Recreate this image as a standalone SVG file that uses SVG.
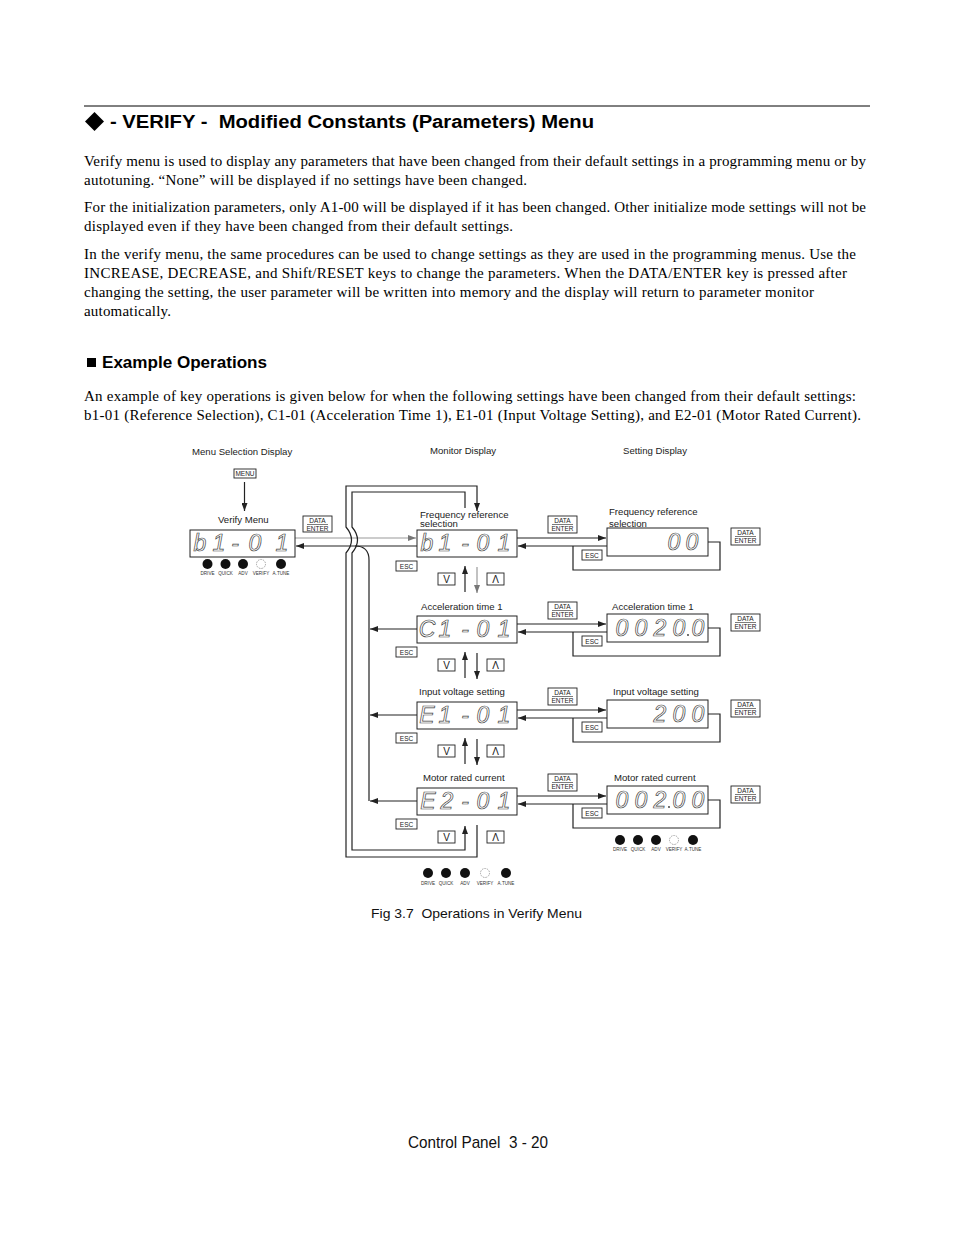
<svg xmlns="http://www.w3.org/2000/svg" width="954" height="1235" viewBox="0 0 954 1235">
<style>
.body{font-family:"Liberation Serif",serif;font-size:15px;fill:#000}
.h1{font-family:"Liberation Sans",Arial,sans-serif;font-size:18px;font-weight:bold;fill:#000}
.h2{font-family:"Liberation Sans",Arial,sans-serif;font-size:16px;font-weight:bold;fill:#000}
.lbl{font-family:"Liberation Sans",Arial,sans-serif;font-size:9.6px;fill:#222}
.cap{font-family:"Liberation Sans",Arial,sans-serif;font-size:13px;fill:#111}
.foot{font-family:"Liberation Sans",Arial,sans-serif;font-size:17px;fill:#111}
.disp{fill:#fff;stroke:#222;stroke-width:1}
.dig{font-family:"Liberation Sans",Arial,sans-serif;font-size:23px;font-style:italic;fill:none;stroke:#444;stroke-width:0.7;text-anchor:middle}
.key{fill:#fff;stroke:#222;stroke-width:0.9}
.kt{font-family:"Liberation Sans",Arial,sans-serif;font-size:6.5px;fill:#222;text-anchor:middle}
.kv{font-family:"Liberation Sans",Arial,sans-serif;font-size:10px;fill:#222;text-anchor:middle}
.led{fill:#111}
.ledv{fill:none;stroke:#999;stroke-width:0.9;stroke-dasharray:1.5 1}
.lt{font-family:"Liberation Sans",Arial,sans-serif;font-size:4.6px;fill:#333;text-anchor:middle}
.ln{fill:none;stroke:#222;stroke-width:1.2}
.lnA{fill:none;stroke:#222;stroke-width:1.2;marker-end:url(#ah)}
.lnG{fill:none;stroke:#999;stroke-width:1.2;marker-end:url(#ahg)}
</style>
<defs>
<marker id="ah" viewBox="0 0 8 6" refX="8" refY="3" markerWidth="8" markerHeight="6" markerUnits="userSpaceOnUse" orient="auto"><path d="M0,0 L8,3 L0,6 z" fill="#222"/></marker>
<marker id="ahg" viewBox="0 0 8 6" refX="8" refY="3" markerWidth="8" markerHeight="6" markerUnits="userSpaceOnUse" orient="auto"><path d="M0,0 L8,3 L0,6 z" fill="#777"/></marker>
</defs>
<rect width="954" height="1235" fill="#fff"/>

<g id="page-text">
<line x1="84" y1="106" x2="870" y2="106" stroke="#000" stroke-width="1"/>
<polygon points="94.5,112 104,121.5 94.5,131 85,121.5" fill="#000"/>
<text class="h1" x="110" y="128" xml:space="preserve" textLength="484" lengthAdjust="spacingAndGlyphs">- VERIFY -  Modified Constants (Parameters) Menu</text>
<text class="body" x="84" y="166" textLength="782" lengthAdjust="spacing">Verify menu is used to display any parameters that have been changed from their default settings in a programming menu or by</text>
<text class="body" x="84" y="185" textLength="443" lengthAdjust="spacing">autotuning. “None” will be displayed if no settings have been changed.</text>
<text class="body" x="84" y="212" textLength="782" lengthAdjust="spacing">For the initialization parameters, only A1-00 will be displayed if it has been changed. Other initialize mode settings will not be</text>
<text class="body" x="84" y="231" textLength="429" lengthAdjust="spacing">displayed even if they have been changed from their default settings.</text>
<text class="body" x="84" y="259" textLength="772" lengthAdjust="spacing">In the verify menu, the same procedures can be used to change settings as they are used in the programming menus. Use the</text>
<text class="body" x="84" y="278" textLength="763" lengthAdjust="spacing">INCREASE, DECREASE, and Shift/RESET keys to change the parameters. When the DATA/ENTER key is pressed after</text>
<text class="body" x="84" y="297" textLength="730" lengthAdjust="spacing">changing the setting, the user parameter will be written into memory and the display will return to parameter monitor</text>
<text class="body" x="84" y="316" textLength="87" lengthAdjust="spacing">automatically.</text>
<rect x="87" y="358" width="9" height="9" fill="#000"/>
<text class="h2" x="102" y="368" textLength="165" lengthAdjust="spacingAndGlyphs">Example Operations</text>
<text class="body" x="84" y="401" textLength="772" lengthAdjust="spacing">An example of key operations is given below for when the following settings have been changed from their default settings:</text>
<text class="body" x="84" y="420" textLength="777" lengthAdjust="spacing">b1-01 (Reference Selection), C1-01 (Acceleration Time 1), E1-01 (Input Voltage Setting), and E2-01 (Motor Rated Current).</text>
<text class="cap" x="371" y="918" xml:space="preserve" textLength="211" lengthAdjust="spacingAndGlyphs">Fig 3.7  Operations in Verify Menu</text>
<text class="foot" x="408" y="1148" xml:space="preserve" textLength="140" lengthAdjust="spacingAndGlyphs">Control Panel  3 - 20</text>
</g>

<g id="column-headers">
<text class="lbl" x="192" y="455" font-size="9.3">Menu Selection Display</text>
<text class="lbl" x="430" y="454" font-size="9.3">Monitor Display</text>
<text class="lbl" x="623" y="454" font-size="9.3">Setting Display</text>
</g>

<g id="connectors">
<line class="lnA" x1="244.5" y1="482" x2="244.5" y2="511"/>
<line class="lnG" x1="295" y1="538" x2="416" y2="538"/>
<line class="lnA" x1="417" y1="546" x2="296" y2="546"/>
<path class="lnA" d="M477,825 L477,857 L346,857 L346,553 Q357,540 346,527 L346,486 L477,486 L477,511"/>
<path class="lnA" d="M465,508 L465,492 L352,492 L352,527 Q363,540 352,553 L352,850 L465,850 L465,826"/>
<path class="ln" d="M369,801 L369,560 Q369,546 355,546"/>
<line class="lnA" x1="417" y1="629" x2="370" y2="629"/>
<line class="lnA" x1="417" y1="715" x2="370" y2="715"/>
<line class="lnA" x1="417" y1="801" x2="370" y2="801"/>
<line class="lnA" x1="517" y1="538" x2="606" y2="538"/>
<line class="lnA" x1="607" y1="546" x2="518" y2="546"/>
<path class="ln" d="M708,542 L720,542 L720,570 L573,570 L573,546"/>
<line class="lnA" x1="465" y1="592" x2="465" y2="566"/>
<line class="lnG" x1="477" y1="567" x2="477" y2="593"/>
<line class="lnA" x1="517" y1="624" x2="606" y2="624"/>
<line class="lnA" x1="607" y1="632" x2="518" y2="632"/>
<path class="ln" d="M708,628 L720,628 L720,656 L573,656 L573,632"/>
<line class="lnA" x1="465" y1="678" x2="465" y2="652"/>
<line class="lnA" x1="477" y1="653" x2="477" y2="679"/>
<line class="lnA" x1="517" y1="710" x2="606" y2="710"/>
<line class="lnA" x1="607" y1="718" x2="518" y2="718"/>
<path class="ln" d="M708,714 L720,714 L720,742 L573,742 L573,718"/>
<line class="lnA" x1="465" y1="764" x2="465" y2="738"/>
<line class="lnA" x1="477" y1="739" x2="477" y2="765"/>
<line class="lnA" x1="517" y1="796" x2="606" y2="796"/>
<line class="lnA" x1="607" y1="804" x2="518" y2="804"/>
<path class="ln" d="M708,800 L720,800 L720,828 L573,828 L573,804"/>
</g>

<g id="menu-key">
<rect class="key" x="234" y="469" width="22" height="9"/>
<text class="kt" x="245" y="476" font-size="6">MENU</text>
</g>

<g id="verify-menu">
<text class="lbl" x="218" y="523" font-size="10">Verify Menu</text>
<rect class="disp" x="190" y="530" width="105" height="27"/>
<text class="dig" x="200" y="551">b</text>
<text class="dig" x="219" y="551">1</text>
<text class="dig" x="235" y="551">-</text>
<text class="dig" x="255" y="551">0</text>
<text class="dig" x="282" y="551">1</text>
<circle class="led" cx="207.5" cy="564" r="5"/>
<circle class="led" cx="225.5" cy="564" r="5"/>
<circle class="led" cx="243" cy="564" r="5"/>
<circle class="ledv" cx="261" cy="564" r="4.5"/>
<circle class="led" cx="281" cy="564" r="5"/>
<text class="lt" x="207.5" y="575">DRIVE</text>
<text class="lt" x="225.5" y="575">QUICK</text>
<text class="lt" x="243" y="575">ADV</text>
<text class="lt" x="261" y="575">VERIFY</text>
<text class="lt" x="281" y="575">A.TUNE</text>
</g>

<g id="key-enter-menu">
<rect class="key" x="303" y="516" width="29" height="16"/>
<text class="kt" x="317.5" y="523">DATA</text>
<line x1="307" y1="524.5" x2="328" y2="524.5" stroke="#222" stroke-width="0.6"/>
<text class="kt" x="317.5" y="530.5">ENTER</text>
</g>

<g id="monitor-b1-01">
<text class="lbl" x="420" y="517.5" font-size="9.2">Frequency reference</text>
<text class="lbl" x="420" y="527" font-size="9.2">selection</text>
<rect class="disp" x="417" y="530" width="100" height="27"/>
<text class="dig" x="427" y="551">b</text>
<text class="dig" x="445" y="551">1</text>
<text class="dig" x="465" y="551">-</text>
<text class="dig" x="483" y="551">0</text>
<text class="dig" x="504" y="551">1</text>
<rect class="key" x="396" y="561" width="21" height="10"/><text class="kt" x="406.5" y="568.5">ESC</text>
<rect class="key" x="438" y="573" width="17" height="12"/><text class="kv" x="446.5" y="583">V</text>
<rect class="key" x="487" y="573" width="17" height="12"/><text class="kv" x="495.5" y="583">Λ</text>
<rect class="key" x="548" y="516" width="29" height="17"/>
<text class="kt" x="562.5" y="523">DATA</text>
<line x1="552" y1="524.5" x2="573" y2="524.5" stroke="#222" stroke-width="0.6"/>
<text class="kt" x="562.5" y="531">ENTER</text>
</g>
<g id="setting-b1-01">
<text class="lbl" x="609" y="515">Frequency reference</text>
<text class="lbl" x="609" y="527">selection</text>
<rect class="disp" x="607" y="528" width="101" height="28"/>
<text class="dig" x="674" y="550">0</text>
<text class="dig" x="692" y="550">0</text>
<rect class="key" x="582" y="550" width="20" height="10"/><text class="kt" x="592" y="557.5">ESC</text>
<rect class="key" x="731" y="528" width="29" height="17"/>
<text class="kt" x="745.5" y="535">DATA</text>
<line x1="735" y1="536.5" x2="756" y2="536.5" stroke="#222" stroke-width="0.6"/>
<text class="kt" x="745.5" y="543">ENTER</text>
</g>

<g id="monitor-c1-01">
<text class="lbl" x="421" y="610">Acceleration time 1</text>
<rect class="disp" x="417" y="616" width="100" height="27"/>
<text class="dig" x="427" y="637">C</text>
<text class="dig" x="445" y="637">1</text>
<text class="dig" x="465" y="637">-</text>
<text class="dig" x="483" y="637">0</text>
<text class="dig" x="504" y="637">1</text>
<rect class="key" x="396" y="647" width="21" height="10"/><text class="kt" x="406.5" y="654.5">ESC</text>
<rect class="key" x="438" y="659" width="17" height="12"/><text class="kv" x="446.5" y="669">V</text>
<rect class="key" x="487" y="659" width="17" height="12"/><text class="kv" x="495.5" y="669">Λ</text>
<rect class="key" x="548" y="602" width="29" height="17"/>
<text class="kt" x="562.5" y="609">DATA</text>
<line x1="552" y1="610.5" x2="573" y2="610.5" stroke="#222" stroke-width="0.6"/>
<text class="kt" x="562.5" y="617">ENTER</text>
</g>
<g id="setting-c1-01">
<text class="lbl" x="612" y="610">Acceleration time 1</text>
<rect class="disp" x="607" y="614" width="101" height="28"/>
<text class="dig" x="622" y="636">0</text>
<text class="dig" x="641" y="636">0</text>
<text class="dig" x="660" y="636">2</text>
<text class="dig" x="679" y="636">0</text>
<circle cx="688" cy="635" r="0.9" fill="#333"/>
<text class="dig" x="698" y="636">0</text>
<rect class="key" x="582" y="636" width="20" height="10"/><text class="kt" x="592" y="643.5">ESC</text>
<rect class="key" x="731" y="614" width="29" height="17"/>
<text class="kt" x="745.5" y="621">DATA</text>
<line x1="735" y1="622.5" x2="756" y2="622.5" stroke="#222" stroke-width="0.6"/>
<text class="kt" x="745.5" y="629">ENTER</text>
</g>

<g id="monitor-e1-01">
<text class="lbl" x="419" y="695">Input voltage setting</text>
<rect class="disp" x="417" y="702" width="100" height="27"/>
<text class="dig" x="427" y="723">E</text>
<text class="dig" x="445" y="723">1</text>
<text class="dig" x="465" y="723">-</text>
<text class="dig" x="483" y="723">0</text>
<text class="dig" x="504" y="723">1</text>
<rect class="key" x="396" y="733" width="21" height="10"/><text class="kt" x="406.5" y="740.5">ESC</text>
<rect class="key" x="438" y="745" width="17" height="12"/><text class="kv" x="446.5" y="755">V</text>
<rect class="key" x="487" y="745" width="17" height="12"/><text class="kv" x="495.5" y="755">Λ</text>
<rect class="key" x="548" y="688" width="29" height="17"/>
<text class="kt" x="562.5" y="695">DATA</text>
<line x1="552" y1="696.5" x2="573" y2="696.5" stroke="#222" stroke-width="0.6"/>
<text class="kt" x="562.5" y="703">ENTER</text>
</g>
<g id="setting-e1-01">
<text class="lbl" x="613" y="695">Input voltage setting</text>
<rect class="disp" x="607" y="700" width="101" height="28"/>
<text class="dig" x="660" y="722">2</text>
<text class="dig" x="679" y="722">0</text>
<text class="dig" x="698" y="722">0</text>
<rect class="key" x="582" y="722" width="20" height="10"/><text class="kt" x="592" y="729.5">ESC</text>
<rect class="key" x="731" y="700" width="29" height="17"/>
<text class="kt" x="745.5" y="707">DATA</text>
<line x1="735" y1="708.5" x2="756" y2="708.5" stroke="#222" stroke-width="0.6"/>
<text class="kt" x="745.5" y="715">ENTER</text>
</g>

<g id="monitor-e2-01">
<text class="lbl" x="423" y="781">Motor rated current</text>
<rect class="disp" x="417" y="788" width="100" height="27"/>
<text class="dig" x="428" y="809">E</text>
<text class="dig" x="447" y="809">2</text>
<text class="dig" x="465" y="809">-</text>
<text class="dig" x="483" y="809">0</text>
<text class="dig" x="504" y="809">1</text>
<rect class="key" x="396" y="819" width="21" height="10"/><text class="kt" x="406.5" y="826.5">ESC</text>
<rect class="key" x="438" y="831" width="17" height="12"/><text class="kv" x="446.5" y="841">V</text>
<rect class="key" x="487" y="831" width="17" height="12"/><text class="kv" x="495.5" y="841">Λ</text>
<rect class="key" x="548" y="774" width="29" height="17"/>
<text class="kt" x="562.5" y="781">DATA</text>
<line x1="552" y1="782.5" x2="573" y2="782.5" stroke="#222" stroke-width="0.6"/>
<text class="kt" x="562.5" y="789">ENTER</text>
<circle class="led" cx="428" cy="873" r="5"/>
<circle class="led" cx="446" cy="873" r="5"/>
<circle class="led" cx="465" cy="873" r="5"/>
<circle class="ledv" cx="485" cy="873" r="4.5"/>
<circle class="led" cx="506" cy="873" r="5"/>
<text class="lt" x="428" y="885">DRIVE</text>
<text class="lt" x="446" y="885">QUICK</text>
<text class="lt" x="465" y="885">ADV</text>
<text class="lt" x="485" y="885">VERIFY</text>
<text class="lt" x="506" y="885">A.TUNE</text>
</g>
<g id="setting-e2-01">
<text class="lbl" x="614" y="781">Motor rated current</text>
<rect class="disp" x="607" y="786" width="101" height="28"/>
<text class="dig" x="622" y="808">0</text>
<text class="dig" x="641" y="808">0</text>
<text class="dig" x="660" y="808">2</text>
<circle cx="669" cy="807" r="0.9" fill="#333"/>
<text class="dig" x="679" y="808">0</text>
<text class="dig" x="698" y="808">0</text>
<rect class="key" x="582" y="808" width="20" height="10"/><text class="kt" x="592" y="815.5">ESC</text>
<rect class="key" x="731" y="786" width="29" height="17"/>
<text class="kt" x="745.5" y="793">DATA</text>
<line x1="735" y1="794.5" x2="756" y2="794.5" stroke="#222" stroke-width="0.6"/>
<text class="kt" x="745.5" y="801">ENTER</text>
<circle class="led" cx="620" cy="840" r="5"/>
<circle class="led" cx="638" cy="840" r="5"/>
<circle class="led" cx="656" cy="840" r="5"/>
<circle class="ledv" cx="674" cy="840" r="4.5"/>
<circle class="led" cx="693" cy="840" r="5"/>
<text class="lt" x="620" y="851">DRIVE</text>
<text class="lt" x="638" y="851">QUICK</text>
<text class="lt" x="656" y="851">ADV</text>
<text class="lt" x="674" y="851">VERIFY</text>
<text class="lt" x="693" y="851">A.TUNE</text>
</g>
</svg>
